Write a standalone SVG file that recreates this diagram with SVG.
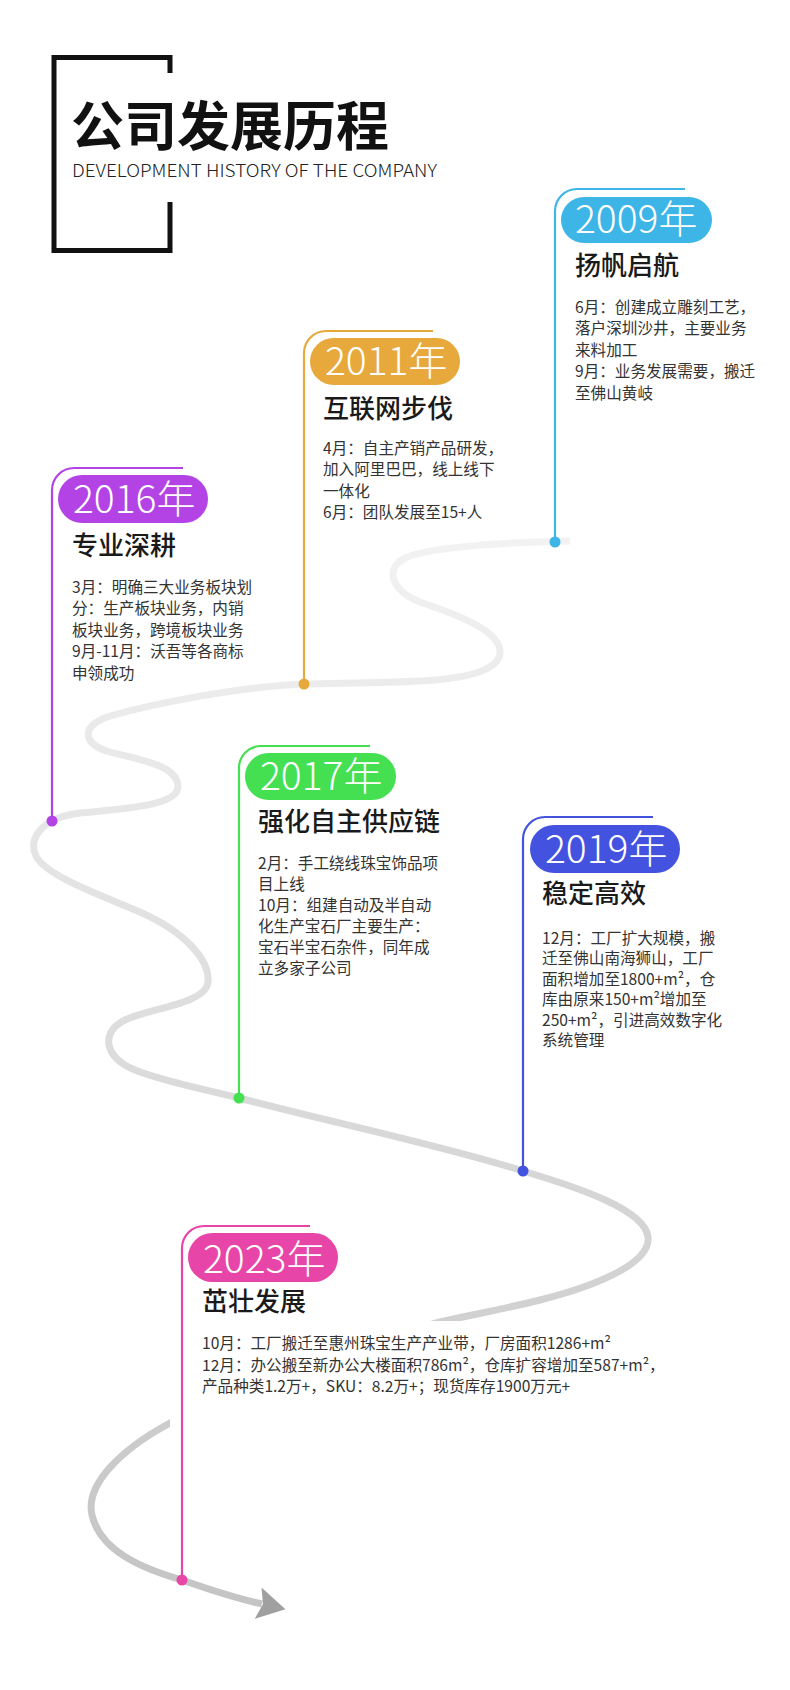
<svg xmlns="http://www.w3.org/2000/svg" width="790" height="1690" viewBox="0 0 790 1690">
<style>
  text { font-family: "Noto Sans CJK SC", "Noto Sans", sans-serif; }
  .head { font-size: 53px; font-weight: 700; fill: #111; }
  .sub { font-size: 18px; font-weight: 300; fill: #222; }
  .year { font-size: 39px; font-weight: 300; fill: #fff; }
  .title { font-size: 26px; font-weight: 500; fill: #1a1a1a; }
  .body { font-size: 15.6px; font-weight: 400; fill: #333; }
  .stem { fill: none; stroke-width: 2.2; }
  .road { fill: none; stroke: url(#roadGrad); stroke-width: 7; stroke-linecap: butt; }
</style>
<defs>
  <linearGradient id="roadGrad" gradientUnits="userSpaceOnUse" x1="0" y1="540" x2="0" y2="1610">
    <stop offset="0" stop-color="#f2f2f2"/>
    <stop offset="1" stop-color="#c4c4c4"/>
  </linearGradient>
  <clipPath id="roadClip">
    <path clip-rule="evenodd" d="M0 0H790V1690H0Z M170 1321H790V1440H170Z"/>
  </clipPath>
  <marker id="arrow" markerUnits="userSpaceOnUse" viewBox="0 0 30 32" refX="4" refY="16" markerWidth="30" markerHeight="32" orient="auto">
    <path d="M0 0 L28 16 L0 32 L5 16 Z" fill="#a0a0a0"/>
  </marker>
</defs>
<rect width="790" height="1690" fill="#fff"/>

<g id="header">
  <path d="M170 73 V57.5 H54 V250.5 H170 V202" fill="none" stroke="#111" stroke-width="5"/>
  <text class="head" x="71" y="146">公司发展历程</text>
  <text class="sub" x="72" y="177" textLength="365" lengthAdjust="spacingAndGlyphs">DEVELOPMENT HISTORY OF THE COMPANY</text>
</g>

<g id="connectors">
  <path class="road" clip-path="url(#roadClip)" marker-end="url(#arrow)" d="M570 541 C520 542 430 546 405 558 C385 568 390 590 420 602 C455 614 500 630 500 652 C500 672 460 679 420 681 C380 683 340 683 304 684 C240 687 160 702 110 716 C80 726 82 744 110 752 C140 760 178 765 178 787 C178 806 120 809 80 813 C40 818 28 840 36 856 C46 876 100 895 140 912 C185 932 210 960 208 982 C206 1004 150 1008 125 1020 C100 1032 104 1058 135 1070 C165 1082 200 1088 239 1098 C330 1122 440 1145 523 1171 C580 1188 645 1210 648 1237 C651 1262 600 1285 540 1300 C500 1310 470 1315 440 1322 C330 1350 220 1395 170 1423 C120 1450 85 1485 92 1515 C100 1550 140 1568 182 1580 C205 1588 230 1597 262 1604"/>
</g>

<g id="node-2009">
  <path class="stem" stroke="#3db5e6" d="M555 542 V211 A22 22 0 0 1 577 189 H685"/>
  <circle cx="555" cy="542" r="5.5" fill="#3db5e6"/>
  <rect x="561" y="197" width="151" height="46" rx="23" fill="#3db5e6"/>
  <text class="year" x="575" y="233">2009年</text>
  <text class="title" x="575" y="275">扬帆启航</text>
  <text class="body"><tspan x="575" y="312.5">6月：创建成立雕刻工艺，</tspan><tspan x="575" y="334">落户深圳沙井，主要业务</tspan><tspan x="575" y="355.5">来料加工</tspan><tspan x="575" y="377">9月：业务发展需要，搬迁</tspan><tspan x="575" y="398.5">至佛山黄岐</tspan></text>
</g>

<g id="node-2011">
  <path class="stem" stroke="#e8a93c" d="M304 684 V353 A22 22 0 0 1 326 331 H433"/>
  <circle cx="304" cy="684" r="5.5" fill="#e8a93c"/>
  <rect x="310" y="338" width="150" height="47" rx="23.5" fill="#e8a93c"/>
  <text class="year" x="325" y="375">2011年</text>
  <text class="title" x="323" y="418">互联网步伐</text>
  <text class="body"><tspan x="323" y="453.5">4月：自主产销产品研发，</tspan><tspan x="323" y="475">加入阿里巴巴，线上线下</tspan><tspan x="323" y="496.5">一体化</tspan><tspan x="323" y="518">6月：团队发展至15+人</tspan></text>
</g>

<g id="node-2016">
  <path class="stem" stroke="#b443e6" d="M52 821 V490 A22 22 0 0 1 74 468 H183"/>
  <circle cx="52" cy="821" r="5.5" fill="#b443e6"/>
  <rect x="58" y="475" width="150" height="48" rx="24" fill="#b443e6"/>
  <text class="year" x="73" y="513">2016年</text>
  <text class="title" x="72" y="555">专业深耕</text>
  <text class="body"><tspan x="72" y="592.5">3月：明确三大业务板块划</tspan><tspan x="72" y="614">分：生产板块业务，内销</tspan><tspan x="72" y="635.5">板块业务，跨境板块业务</tspan><tspan x="72" y="657">9月-11月：沃吾等各商标</tspan><tspan x="72" y="678.5">申领成功</tspan></text>
</g>

<g id="node-2017">
  <path class="stem" stroke="#44e052" d="M239 1098 V768 A22 22 0 0 1 261 746 H370"/>
  <circle cx="239" cy="1098" r="5.5" fill="#44e052"/>
  <rect x="245" y="753" width="151" height="47" rx="23.5" fill="#44e052"/>
  <text class="year" x="260" y="790">2017年</text>
  <text class="title" x="258" y="831">强化自主供应链</text>
  <text class="body"><tspan x="258" y="869">2月：手工绕线珠宝饰品项</tspan><tspan x="258" y="890">目上线</tspan><tspan x="258" y="911">10月：组建自动及半自动</tspan><tspan x="258" y="932">化生产宝石厂主要生产：</tspan><tspan x="258" y="953">宝石半宝石杂件，同年成</tspan><tspan x="258" y="974">立多家子公司</tspan></text>
</g>

<g id="node-2019">
  <path class="stem" stroke="#4452e0" d="M523 1171 V839 A22 22 0 0 1 545 817 H653"/>
  <circle cx="523" cy="1171" r="5.5" fill="#4452e0"/>
  <rect x="530" y="825" width="150" height="48" rx="24" fill="#4452e0"/>
  <text class="year" x="545" y="863">2019年</text>
  <text class="title" x="542" y="903">稳定高效</text>
  <text class="body"><tspan x="542" y="943.5">12月：工厂扩大规模，搬</tspan><tspan x="542" y="964">迁至佛山南海狮山，工厂</tspan><tspan x="542" y="984.5">面积增加至1800+m²，仓</tspan><tspan x="542" y="1005">库由原来150+m²增加至</tspan><tspan x="542" y="1025.5">250+m²，引进高效数字化</tspan><tspan x="542" y="1046">系统管理</tspan></text>
</g>

<g id="node-2023">
  <path class="stem" stroke="#e845a8" d="M182 1580 V1248 A22 22 0 0 1 204 1226 H310"/>
  <circle cx="182" cy="1580" r="5.5" fill="#e845a8"/>
  <rect x="188" y="1233" width="150" height="49" rx="24.5" fill="#e845a8"/>
  <text class="year" x="203" y="1273">2023年</text>
  <text class="title" x="202" y="1311">茁壮发展</text>
  <text class="body"><tspan x="202" y="1349">10月：工厂搬迁至惠州珠宝生产产业带，厂房面积1286+m²</tspan><tspan x="202" y="1370.5">12月：办公搬至新办公大楼面积786m²，仓库扩容增加至587+m²，</tspan><tspan x="202" y="1392">产品种类1.2万+，SKU：8.2万+；现货库存1900万元+</tspan></text>
</g>
</svg>
